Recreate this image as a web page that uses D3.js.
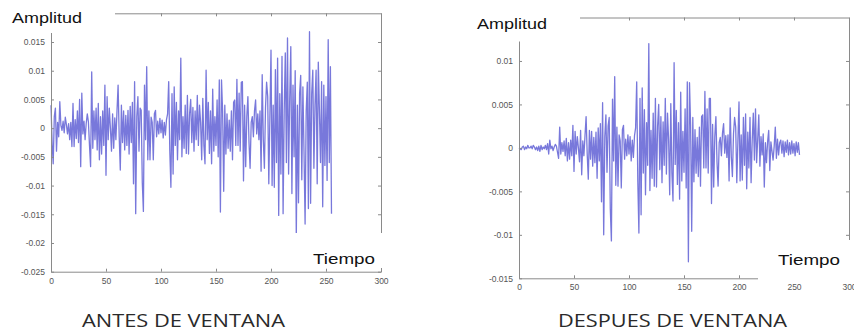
<!DOCTYPE html>
<html>
<head>
<meta charset="utf-8">
<script src="https://cdn.jsdelivr.net/npm/d3@7"></script>
<style>
  html, body { margin: 0; padding: 0; background: #fff; }
  svg { display: block; }
</style>
</head>
<body>
<script>
// ---------- DATA ----------
const xTicks = [0, 50, 100, 150, 200, 250, 300];
const xTickLabels = ["0", "50", "100", "150", "200", "250", "300"];

const yTicksBefore = [-0.025, -0.02, -0.015, -0.01, -0.005, 0, 0.005, 0.01, 0.015];
const yTickLabelsBefore = ["-0.025", "-0.02", "-0.015", "-0.01", "-0.005", "0", "0.005", "0.01", "0.015"];

const yTicksAfter = [-0.015, -0.01, -0.005, 0, 0.005, 0.01];
const yTickLabelsAfter = ["-0.015", "-0.01", "-0.005", "0", "0.005", "0.01"];

const titleBefore = "ANTES DE VENTANA";
const titleAfter = "DESPUES DE VENTANA";
const yLabel = "Amplitud";
const xLabel = "Tiempo";

// signal before window (256 samples)
const before = [
 0.0040,-0.0025,-0.0062,0.0020,0.0035,-0.0040,0.0010,-0.0015,0.0046,0.0005,
 -0.0004,0.0012,-0.0008,0.0019,0.0006,-0.0010,0.0008,-0.0020,0.0010,-0.0032,
 0.0043,-0.0032,0.0015,-0.0018,0.0030,-0.0025,0.0050,-0.0067,0.0061,-0.0010,
 0.0012,-0.0020,0.0008,0.0025,0.0011,-0.0030,-0.0067,0.0098,-0.0035,0.0030,
 -0.0020,0.0035,-0.0038,0.0043,-0.0055,0.0020,-0.0045,0.0030,-0.0030,0.0075,
 -0.0082,0.0055,-0.0020,0.0035,0.0000,-0.0040,0.0025,-0.0035,0.0018,-0.0020,
 0.0030,0.0075,-0.0015,-0.0073,0.0040,-0.0025,0.0030,-0.0038,0.0022,-0.0030,
 0.0031,-0.0045,0.0038,-0.0025,0.0045,-0.0097,0.0081,-0.0149,0.0020,0.0055,
 -0.0040,0.0035,0.0031,-0.0095,-0.0145,0.0075,-0.0020,0.0107,-0.0055,0.0030,
 -0.0055,0.0019,0.0010,-0.0055,0.0025,0.0031,-0.0015,0.0012,-0.0010,0.0017,
 -0.0008,0.0014,-0.0017,0.0010,-0.0012,0.0015,0.0025,0.0081,-0.0040,-0.0103,
 0.0060,-0.0080,0.0072,-0.0030,0.0045,-0.0055,0.0030,-0.0020,0.0122,-0.0050,
 0.0020,-0.0035,0.0040,-0.0044,0.0057,-0.0045,0.0025,0.0050,-0.0025,0.0036,
 -0.0040,0.0030,-0.0020,0.0057,-0.0030,0.0040,0.0010,-0.0055,0.0052,-0.0030,
 -0.0062,0.0101,-0.0020,0.0045,-0.0044,0.0030,-0.0062,0.0068,-0.0040,0.0020,
 -0.0030,0.0049,-0.0050,0.0084,-0.0146,0.0084,0.0030,-0.0110,0.0040,-0.0045,
 0.0025,-0.0035,0.0014,-0.0040,0.0030,-0.0055,0.0045,0.0049,-0.0030,0.0085,
 -0.0030,0.0061,-0.0040,0.0080,0.0081,-0.0092,0.0040,-0.0067,0.0020,0.0055,
 -0.0025,-0.0070,0.0010,0.0020,-0.0015,0.0030,0.0049,-0.0010,0.0025,-0.0020,
 0.0030,-0.0075,0.0093,-0.0020,-0.0070,0.0035,0.0080,0.0055,-0.0097,0.0020,
 0.0136,-0.0100,0.0040,-0.0103,0.0102,-0.0060,0.0122,-0.0152,0.0060,-0.0080,
 0.0125,-0.0149,0.0030,0.0131,-0.0060,0.0157,-0.0080,0.0050,0.0142,-0.0114,
 0.0075,-0.0050,0.0100,-0.0190,0.0040,-0.0130,0.0060,0.0092,-0.0090,0.0072,
 -0.0040,-0.0167,0.0030,0.0080,-0.0140,0.0168,-0.0131,0.0060,0.0101,-0.0070,
 0.0040,0.0101,-0.0097,0.0115,0.0031,-0.0060,0.0081,-0.0137,0.0075,-0.0065,
 0.0055,-0.0091,0.0154,-0.0060,0.0107,-0.0149
];

// signal after window (256 samples)
const after = [
 0.0000,-0.0001,-0.0002,0.0001,0.0002,-0.0002,0.0001,-0.0001,0.0003,0.0000,
 0.0000,0.0002,-0.0001,0.0003,0.0001,-0.0002,0.0001,-0.0003,0.0002,-0.0004,
 0.0003,-0.0002,0.0001,-0.0001,0.0003,-0.0002,0.0005,-0.0007,0.0009,-0.0001,
 0.0002,-0.0003,0.0001,0.0004,0.0002,-0.0005,-0.0012,0.0024,-0.0007,0.0006,
 -0.0004,0.0008,-0.0009,0.0011,-0.0015,0.0006,-0.0013,0.0009,-0.0009,0.0026,
 -0.0027,0.0019,-0.0007,0.0013,0.0000,-0.0016,0.0020,-0.0031,0.0008,-0.0009,
 0.0014,0.0036,-0.0007,-0.0036,0.0020,-0.0013,0.0019,-0.0021,0.0012,-0.0017,
 0.0018,-0.0035,0.0023,-0.0015,0.0028,-0.0062,0.0052,-0.0100,0.0013,0.0038,
 -0.0028,0.0025,0.0035,-0.0070,-0.0107,0.0056,-0.0015,0.0082,-0.0043,0.0024,
 -0.0044,0.0015,0.0008,-0.0046,0.0021,0.0026,-0.0013,0.0010,-0.0009,0.0015,
 -0.0007,0.0013,-0.0015,0.0009,-0.0011,0.0014,0.0023,0.0076,-0.0038,-0.0098,
 0.0057,-0.0077,0.0069,-0.0029,0.0044,-0.0054,0.0029,-0.0020,0.0120,-0.0049,
 0.0020,-0.0035,0.0040,-0.0044,0.0057,-0.0045,0.0025,0.0050,-0.0025,0.0036,
 -0.0040,0.0030,-0.0020,0.0057,-0.0030,0.0040,0.0010,-0.0054,0.0051,-0.0029,
 -0.0061,0.0098,-0.0019,0.0043,-0.0042,0.0029,-0.0059,0.0064,-0.0038,0.0019,
 -0.0028,0.0045,-0.0046,0.0076,-0.0131,0.0075,0.0026,-0.0096,0.0035,-0.0039,
 0.0021,-0.0029,0.0012,-0.0033,0.0024,-0.0044,0.0036,0.0038,-0.0023,0.0065,
 -0.0023,0.0045,-0.0029,0.0057,0.0057,-0.0064,0.0027,-0.0045,0.0013,0.0036,
 -0.0016,-0.0044,0.0006,0.0012,-0.0009,0.0017,0.0028,-0.0006,0.0014,-0.0011,
 0.0015,-0.0038,0.0046,-0.0010,-0.0033,0.0016,0.0035,0.0024,-0.0040,0.0008,
 0.0053,-0.0038,0.0015,-0.0037,0.0035,-0.0020,0.0039,-0.0047,0.0018,-0.0023,
 0.0035,-0.0040,0.0008,0.0040,-0.0014,0.0045,-0.0017,0.0010,0.0038,-0.0021,
 0.0013,-0.0008,0.0016,-0.0045,0.0006,-0.0017,0.0007,0.0020,-0.0026,0.0007,
 -0.0004,-0.0014,0.0002,0.0024,-0.0012,0.0010,-0.0008,0.0006,0.0009,-0.0006,
 0.0008,-0.0010,0.0007,-0.0005,0.0009,-0.0008,0.0006,-0.0007,0.0008,-0.0006,
 0.0005,-0.0009,0.0007,-0.0005,0.0006,-0.0008
];

// ---------- DRAW ----------
const W = 854, H = 333;
const svg = d3.select("body").append("svg").attr("width", W).attr("height", H);

function panel(o) {
  const x = d3.scaleLinear().domain([0, 300]).range([o.x0, o.x1]);
  const y = d3.scaleLinear().domain(o.yDomain).range([o.y0, o.y1]);
  const g = svg.append("g");

  // signal
  g.append("path")
    .datum(o.values)
    .attr("fill", "none")
    .attr("stroke", "#5656d2")
    .attr("stroke-width", 1.3)
    .attr("stroke-opacity", 0.8)
    .attr("stroke-linejoin", "round")
    .attr("d", d3.line().x((d, i) => x(i)).y(d => y(d)));

  const styleAxis = sel => {
    sel.select(".domain").attr("stroke", "#8a8a8a");
    sel.selectAll(".tick line").attr("stroke", "#8a8a8a");
    sel.selectAll(".tick text")
      .attr("fill", "#555")
      .style("font-family", "'Liberation Sans', Arial, sans-serif")
      .style("font-size", "8.5px");
  };

  g.append("g").attr("transform", `translate(0,${o.y0})`)
    .call(d3.axisBottom(x).tickValues(xTicks).tickSize(-3).tickSizeOuter(0).tickPadding(6)
      .tickFormat((d, i) => xTickLabels[i]))
    .call(styleAxis);
  g.append("g").attr("transform", `translate(0,${o.y1})`)
    .call(d3.axisTop(x).tickValues(xTicks).tickSize(-3).tickSizeOuter(0).tickFormat(""))
    .call(styleAxis);
  g.append("g").attr("transform", `translate(${o.x0},0)`)
    .call(d3.axisLeft(y).tickValues(o.yTicks).tickSize(-3).tickSizeOuter(0).tickPadding(6)
      .tickFormat((d, i) => o.yLabels[i]))
    .call(styleAxis);
  g.append("g").attr("transform", `translate(${o.x1},0)`)
    .call(d3.axisRight(y).tickValues(o.yTicks).tickSize(-3).tickSizeOuter(0).tickFormat(""))
    .call(styleAxis);

  // white label boxes pasted on top
  o.masks.forEach(m => {
    g.append("rect").attr("x", m[0]).attr("y", m[1]).attr("width", m[2]).attr("height", m[3]).attr("fill", "#fff");
  });

  const lab = (t, px, py, len) => g.append("text")
    .attr("x", px).attr("y", py)
    .attr("textLength", len).attr("lengthAdjust", "spacingAndGlyphs")
    .style("font-family", "'Liberation Sans', Arial, sans-serif")
    .style("font-size", "15px").attr("fill", "#111").text(t);
  lab(yLabel, o.ylx, o.yly, 70);
  lab(xLabel, o.xlx, o.xly, 62);

  g.append("text")
    .attr("x", o.tx).attr("y", 327)
    .attr("textLength", o.tlen).attr("lengthAdjust", "spacingAndGlyphs")
    .style("font-family", "'Open Sans', sans-serif")
    .style("font-size", "19px").attr("fill", "#2a2a2a").text(o.title);
}

panel({
  x0: 51, x1: 381, y0: 271.7, y1: 13.3, yDomain: [-0.025, 0.02],
  yTicks: yTicksBefore, yLabels: yTickLabelsBefore, values: before,
  masks: [[0, 0, 115, 33], [288, 233, 112, 35]],
  ylx: 12, yly: 23, xlx: 313, xly: 264,
  tx: 82, tlen: 203, title: titleBefore
});

panel({
  x0: 519, x1: 849, y0: 278.3, y1: 17.5, yDomain: [-0.015, 0.015],
  yTicks: yTicksAfter, yLabels: yTickLabelsAfter, values: after,
  masks: [[440, 0, 140, 41.5], [758, 240, 96, 40]],
  ylx: 477, yly: 29, xlx: 778, xly: 264.5,
  tx: 558, tlen: 229, title: titleAfter
});
</script>
</body>
</html>
